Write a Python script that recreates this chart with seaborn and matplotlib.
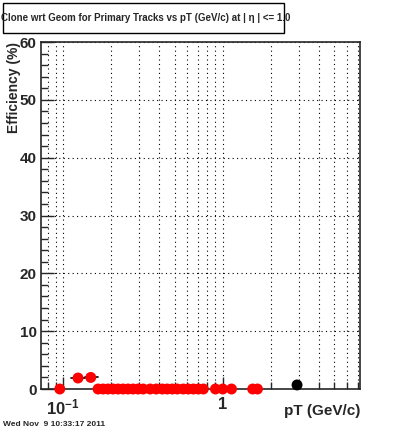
import matplotlib
matplotlib.use("Agg")
import matplotlib.pyplot as plt
from matplotlib.ticker import FixedLocator, NullFormatter
import seaborn as sns
import pandas as pd

# efficiency per pT bin
pt_red = [0.0953, 0.124, 0.149, 0.1655, 0.178, 0.191, 0.2055, 0.221, 0.2375,
          0.255, 0.274, 0.295, 0.317, 0.351, 0.383, 0.418, 0.449, 0.483,
          0.519, 0.566, 0.608, 0.654, 0.703, 0.756, 0.900, 1.0, 1.135,
          1.54, 1.65]
eff_red = [0.0, 1.9, 2.0, 0.0, 0.0, 0.0, 0.0, 0.0, 0.0,
           0.0, 0.0, 0.0, 0.0, 0.0, 0.0, 0.0, 0.0, 0.0,
           0.0, 0.0, 0.0, 0.0, 0.0, 0.0, 0.0, 0.0, 0.0,
           0.0, 0.0]
pt_black = [2.92]
eff_black = [0.7]
# bin edges for the two non-zero bins (x error bars)
err_lo = [0.112, 0.137]
err_hi = [0.137, 0.166]
err_eff = [1.9, 2.0]

title = "Clone wrt Geom for Primary Tracks vs pT (GeV/c) at | \u03b7 | <= 1.0"
stamp = "Wed Nov  9 10:33:17 2011"

sns.set_style("ticks")
plt.rcParams['font.family'] = ['Liberation Sans', 'DejaVu Sans']
plt.rcParams['font.weight'] = 'bold'
plt.rcParams['mathtext.fontset'] = 'custom'
plt.rcParams['mathtext.bf'] = 'Liberation Sans:bold'
plt.rcParams['mathtext.rm'] = 'Liberation Sans:bold'

fig = plt.figure(figsize=(4.0, 4.33), dpi=100)
ax = fig.add_axes([0.1025, 0.1016, 0.7975, 0.8014])

df_red = pd.DataFrame({"pt": pt_red, "eff": eff_red})
df_black = pd.DataFrame({"pt": pt_black, "eff": eff_black})

for lo, hi, y in zip(err_lo, err_hi, err_eff):
    ax.plot([lo, hi], [y, y], color="black", lw=1.2, zorder=2)

sns.scatterplot(data=df_red, x="pt", y="eff", color="#ff0000", s=62,
                edgecolor="none", ax=ax, zorder=3, clip_on=False)
sns.scatterplot(data=df_black, x="pt", y="eff", color="black", s=62,
                edgecolor="none", ax=ax, zorder=3, clip_on=False)

ax.set_xscale("log")
ax.set_xlim(0.0727, 7.24)
ax.set_ylim(0, 60)

ax.set_xticks([0.1, 1.0], [r"$\mathbf{10^{-1}}$", "1"])
minor_x = [0.08, 0.09, 0.2, 0.3, 0.4, 0.5, 0.6, 0.7, 0.8, 0.9,
           2, 3, 4, 5, 6, 7]
ax.xaxis.set_minor_locator(FixedLocator(minor_x))
ax.xaxis.set_minor_formatter(NullFormatter())
ax.set_yticks([0, 10, 20, 30, 40, 50, 60])
ax.yaxis.set_minor_locator(FixedLocator([v for v in range(0, 61, 2) if v % 10]))

ax.tick_params(axis="both", which="major", direction="in", length=9,
               width=1, labelsize=11, pad=3)
ax.tick_params(axis="both", which="minor", direction="in", length=5, width=1)
ax.tick_params(axis="x", which="major", pad=6, labelsize=12)
for lbl in ax.get_xticklabels() + ax.get_yticklabels():
    lbl.set_fontweight("bold")

ax.grid(True, which="major", axis="y", linestyle=(0, (1, 3)), color="black", lw=0.8)
ax.grid(True, which="both", axis="x", linestyle=(0, (1, 3)), color="black", lw=0.8)
for s in ax.spines.values():
    s.set_linewidth(1.2)

ax.set_xlabel("")
ax.set_ylabel("")
fig.text(0.9, 0.035, "pT (GeV/c)", ha="right", va="bottom", fontsize=11,
         fontweight="bold")
fig.text(0.035, 0.903, "Efficiency (%)", ha="center", va="top", rotation=90,
         fontsize=10, fontweight="bold")

# title box
fig.patches.append(plt.Rectangle((3 / 400, 1 - 33 / 433), 281 / 400, 30 / 433,
                                 transform=fig.transFigure, facecolor="white",
                                 edgecolor="black", lw=1))
fig.text(146 / 400, 1 - 18 / 433, title, ha="center", va="center",
         fontsize=7, fontweight="bold")
fig.text(3 / 400, 1 - 425 / 433, stamp, ha="left", va="center",
         fontsize=6, fontweight="bold")

fig.savefig("out.png", dpi=100)
